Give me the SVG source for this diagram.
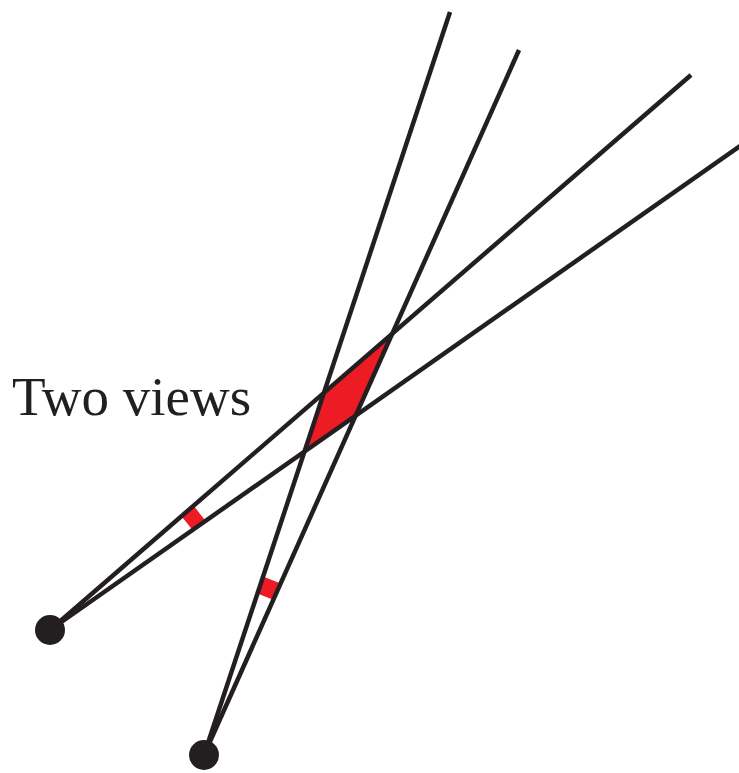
<svg xmlns="http://www.w3.org/2000/svg" width="739" height="773" viewBox="0 0 739 773">
<style>
.ray{stroke:#231f20;stroke-width:4.5;stroke-linecap:butt;fill:none}
.red{fill:#ed1c24}
.cam{fill:#231f20}
.lbl{font-family:"Liberation Serif","Times New Roman",serif;font-size:55px;fill:#231f20}
</style>
<rect width="739" height="773" fill="#ffffff"/>
<g id="overlap">
<polygon class="red" points="392.2,333.7 323.9,392.9 304.4,451.7 355.5,415.8"/>
</g>
<g id="angle-marks">
<polygon class="red" points="181.5,516.2 193.6,505.7 205.6,520.9 192.5,530.1"/>
<polygon class="red" points="257.4,593.6 263.1,576.5 280.7,583.4 273.3,599.8"/>
</g>
<g id="connectors">
<line class="ray" x1="50" y1="630" x2="691" y2="75"/>
<line class="ray" x1="50" y1="630" x2="760" y2="132"/>
<line class="ray" x1="204" y1="755" x2="450" y2="12"/>
<line class="ray" x1="204" y1="755" x2="519" y2="50"/>
</g>
<g id="camera1">
<circle class="cam" cx="50" cy="630" r="15"/>
</g>
<g id="camera2">
<circle class="cam" cx="204" cy="755" r="15"/>
</g>
<g id="label">
<text class="lbl" x="12" y="415">Two views</text>
</g>
</svg>
